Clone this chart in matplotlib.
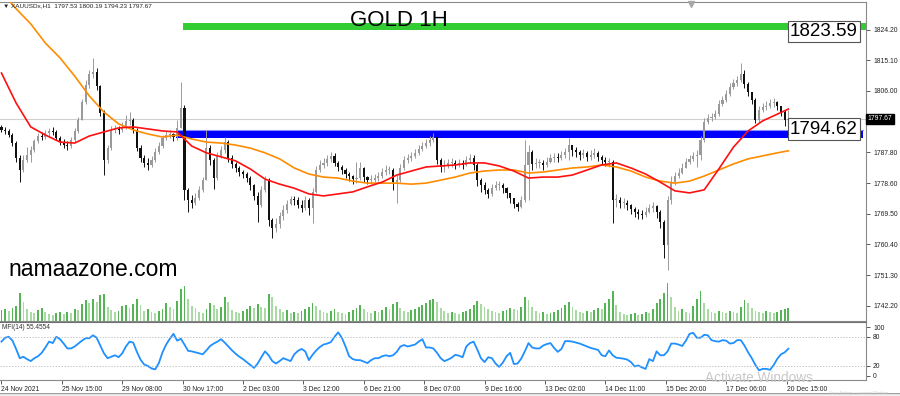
import matplotlib
matplotlib.use("Agg")
import matplotlib.pyplot as plt
import matplotlib.transforms as mtransforms
import numpy as np

plt.rcParams['font.family'] = ['Liberation Sans', 'DejaVu Sans']

# ---- data (2-hour candles) ----
first_open = 1795.2
closes = [
    1794.4, 1794.1, 1792.9, 1790.5, 1786.1, 1782.5, 1785.5, 1787.0, 1788.5, 1791.1,
    1792.6, 1792.3, 1793.5, 1794.1, 1793.8, 1792.0, 1790.8, 1789.9, 1789.6, 1791.4,
    1794.1, 1797.4, 1802.7, 1807.7, 1811.0, 1811.6, 1807.4, 1799.4, 1785.5, 1789.0,
    1794.4, 1794.7, 1794.4, 1795.3, 1797.1, 1797.4, 1794.4, 1789.0, 1786.1, 1784.6,
    1784.0, 1785.5, 1787.9, 1789.6, 1792.0, 1792.9, 1793.2, 1792.3, 1795.0, 1800.9,
    1776.6, 1773.6, 1772.7, 1774.2, 1776.6, 1779.5, 1789.0, 1785.5, 1780.1, 1786.7,
    1788.5, 1790.8, 1786.1, 1784.3, 1783.1, 1781.9, 1781.3, 1780.1, 1778.0, 1774.8,
    1772.1, 1776.6, 1779.5, 1767.7, 1765.3, 1766.5, 1768.9, 1770.6, 1772.4, 1773.9,
    1773.6, 1772.1, 1771.2, 1773.6, 1771.2, 1776.0, 1782.5, 1784.0, 1784.6, 1785.8,
    1786.7, 1784.6, 1783.4, 1782.5, 1781.3, 1780.7, 1779.8, 1780.1, 1783.1, 1780.4,
    1779.5, 1779.5, 1780.1, 1780.7, 1781.9, 1782.5, 1782.5, 1778.9, 1779.5, 1783.1,
    1785.5, 1786.1, 1786.7, 1787.6, 1788.8, 1789.6, 1790.5, 1791.4, 1792.3, 1785.5,
    1783.4, 1783.7, 1784.6, 1784.6, 1784.0, 1784.6, 1784.0, 1785.5, 1786.1, 1784.0,
    1779.5, 1778.0, 1776.6, 1775.4, 1777.2, 1778.0, 1778.0, 1777.2, 1775.7, 1774.2,
    1772.4, 1771.5, 1773.6, 1784.0, 1787.9, 1784.3, 1784.6, 1784.6, 1784.0, 1784.9,
    1786.1, 1786.4, 1786.1, 1787.0, 1787.9, 1789.9, 1788.5, 1787.9, 1787.0, 1787.6,
    1786.4, 1787.0, 1787.6, 1786.4, 1785.5, 1784.9, 1784.9, 1773.6, 1773.6, 1772.7,
    1772.7, 1772.1, 1770.9, 1770.0, 1769.4, 1769.1, 1770.0, 1771.2, 1771.8, 1770.0,
    1767.1, 1760.2, 1773.6, 1778.9, 1780.7, 1781.6, 1783.1, 1784.9, 1785.8, 1786.7,
    1787.0, 1791.4, 1796.8, 1798.0, 1798.3, 1799.1, 1802.1, 1803.3, 1805.1, 1807.2,
    1808.4, 1809.2, 1811.0, 1808.0, 1805.6, 1803.3, 1797.4, 1800.3, 1801.2, 1801.5,
    1802.4, 1802.7, 1801.5, 1799.7, 1797.4, 1797.67,
]
highs = [
    1795.9, 1795.3, 1794.7, 1793.5, 1791.1, 1787.0, 1787.0, 1789.3, 1789.6, 1791.7,
    1793.5, 1793.8, 1794.4, 1795.0, 1795.3, 1794.4, 1792.6, 1791.7, 1791.1, 1792.3,
    1795.0, 1798.3, 1803.6, 1809.2, 1812.2, 1815.8, 1812.8, 1807.7, 1800.3, 1789.9,
    1795.6, 1795.9, 1795.6, 1796.8, 1798.8, 1799.7, 1797.9, 1795.0, 1789.9, 1787.0,
    1786.1, 1786.7, 1789.0, 1790.8, 1792.9, 1794.1, 1794.4, 1793.5, 1797.4, 1808.6,
    1801.8, 1777.2, 1775.1, 1775.6, 1777.8, 1780.4, 1794.4, 1789.9, 1786.1, 1787.9,
    1789.6, 1792.3, 1791.4, 1787.0, 1784.9, 1783.7, 1782.5, 1781.9, 1780.7, 1778.3,
    1776.0, 1777.8, 1780.7, 1780.1, 1768.3, 1768.3, 1770.0, 1772.1, 1773.6, 1774.8,
    1774.8, 1774.5, 1773.6, 1774.8, 1774.2, 1777.2, 1783.7, 1785.5, 1786.1, 1787.0,
    1787.9, 1787.6, 1785.2, 1784.0, 1783.1, 1781.9, 1781.0, 1784.9, 1784.9, 1783.4,
    1780.7, 1781.0, 1781.3, 1781.9, 1783.1, 1784.0, 1783.7, 1783.1, 1781.0, 1784.3,
    1786.7, 1787.3, 1787.9, 1788.8, 1789.9, 1790.8, 1791.7, 1792.6, 1793.5, 1792.9,
    1786.1, 1785.5, 1785.8, 1786.1, 1785.5, 1785.8, 1785.5, 1786.7, 1787.3, 1787.0,
    1784.6, 1780.1, 1778.9, 1777.2, 1778.3, 1779.2, 1779.2, 1778.6, 1777.5, 1775.7,
    1774.2, 1773.0, 1774.8, 1791.4, 1789.9, 1788.5, 1786.1, 1785.8, 1785.5, 1786.4,
    1787.3, 1787.6, 1787.6, 1788.2, 1789.0, 1792.0, 1789.9, 1789.3, 1788.5, 1788.8,
    1788.2, 1788.5, 1789.0, 1788.2, 1787.0, 1786.4, 1786.1, 1785.5, 1775.4, 1774.5,
    1774.2, 1773.6, 1772.4, 1771.5, 1770.9, 1770.6, 1771.5, 1772.4, 1773.0, 1772.1,
    1770.6, 1767.6, 1774.8, 1780.7, 1781.9, 1783.1, 1784.6, 1786.1, 1787.0, 1787.9,
    1788.5, 1792.6, 1798.0, 1799.1, 1799.4, 1800.3, 1803.3, 1804.5, 1806.3, 1808.4,
    1809.5, 1810.4, 1814.3, 1812.2, 1808.6, 1805.6, 1803.9, 1801.5, 1802.4, 1803.0,
    1803.6, 1803.9, 1803.0, 1801.5, 1800.2, 1800.19,
]
lows = [
    1793.8, 1793.2, 1792.3, 1789.6, 1784.9, 1778.9, 1781.9, 1784.9, 1784.9, 1787.9,
    1790.5, 1791.4, 1791.7, 1792.6, 1792.9, 1791.4, 1789.9, 1789.0, 1788.5, 1789.0,
    1790.8, 1793.5, 1797.4, 1802.1, 1806.8, 1809.8, 1806.3, 1798.5, 1781.0, 1784.6,
    1788.5, 1793.5, 1793.2, 1793.8, 1794.7, 1795.9, 1793.5, 1788.2, 1784.9, 1783.4,
    1782.5, 1783.4, 1784.9, 1787.3, 1789.0, 1791.4, 1792.0, 1791.1, 1791.4, 1795.0,
    1773.6, 1770.0, 1771.2, 1772.1, 1773.6, 1775.9, 1780.1, 1784.0, 1776.8, 1779.5,
    1786.1, 1787.6, 1784.9, 1783.1, 1781.9, 1780.7, 1780.1, 1778.9, 1776.6, 1773.6,
    1767.1, 1771.5, 1775.9, 1765.9, 1762.3, 1764.1, 1765.3, 1767.7, 1769.7, 1772.1,
    1772.1, 1771.2, 1770.0, 1770.6, 1769.1, 1766.8, 1775.7, 1781.9, 1783.1, 1783.7,
    1784.9, 1783.7, 1782.2, 1781.3, 1780.1, 1779.2, 1778.3, 1778.6, 1779.5, 1778.9,
    1778.3, 1778.3, 1778.9, 1779.2, 1780.1, 1781.0, 1781.3, 1776.6, 1772.7, 1778.9,
    1782.5, 1784.6, 1785.2, 1786.1, 1787.0, 1788.2, 1789.0, 1789.6, 1790.8, 1784.3,
    1781.9, 1781.9, 1783.1, 1783.4, 1782.8, 1783.4, 1782.8, 1783.7, 1784.6, 1782.5,
    1777.7, 1775.9, 1775.4, 1774.2, 1774.8, 1776.6, 1776.6, 1775.7, 1774.2, 1772.7,
    1771.2, 1770.3, 1771.2, 1773.0, 1773.6, 1782.5, 1783.1, 1783.1, 1782.5, 1783.4,
    1784.6, 1784.9, 1784.9, 1785.5, 1786.1, 1785.5, 1786.7, 1786.4, 1785.5, 1786.1,
    1785.2, 1785.5, 1786.1, 1785.2, 1784.0, 1783.7, 1783.4, 1766.8, 1771.5, 1771.2,
    1771.2, 1770.6, 1769.4, 1768.5, 1767.9, 1767.9, 1768.5, 1769.7, 1770.0, 1768.3,
    1765.3, 1756.4, 1752.8, 1772.4, 1778.0, 1780.1, 1781.3, 1783.1, 1784.3, 1785.2,
    1783.4, 1785.5, 1790.8, 1796.2, 1797.1, 1797.7, 1798.5, 1801.5, 1802.7, 1804.5,
    1806.6, 1807.4, 1808.6, 1806.8, 1804.5, 1802.1, 1796.5, 1796.8, 1799.7, 1800.3,
    1801.0, 1801.2, 1800.3, 1798.5, 1795.6, 1794.23,
]
volumes = [
    2200, 2400, 2000, 2600, 3000, 5600, 3800, 2400, 1800, 1600,
    2200, 2600, 1800, 1400, 1200, 1600, 1800, 1400, 1800, 1600,
    2400, 2200, 3400, 4200, 3600, 4400, 3800, 5200, 5400, 2800,
    2200, 1800, 2000, 3000, 3200, 2600, 3400, 4400, 3200, 2000,
    2400, 1800, 1600, 2000, 2400, 3600, 2800, 2400, 4000, 6400,
    7000, 4400, 3000, 2600, 1800, 1600, 2400, 3600, 3200, 2400,
    2800, 4800, 3800, 2200, 1800, 1600, 2000, 2400, 3000, 2600,
    3400, 2800, 2600, 5400, 4800, 3000, 2400, 1800, 2200, 1600,
    1800, 1600, 2000, 2400, 2800, 3600, 3000, 2200, 1800, 1600,
    2000, 2400, 1800, 1600, 1400, 1800, 2200, 2600, 3200, 2400,
    1800, 1600, 2000, 1800, 2200, 2800, 2400, 3400, 3800, 2600,
    2000, 1800, 2200, 2400, 2800, 3200, 3600, 4200, 4400, 3800,
    2600, 2000, 1600, 1800, 1600, 1400, 1800, 2000, 2400, 3200,
    4000, 3400, 2800, 2400, 2000, 1800, 1600, 2000, 2200, 2600,
    2400, 2200, 2800, 4800, 4200, 2800, 2000, 1600, 1800, 1400,
    1600, 1800, 2200, 2600, 3200, 3800, 2800, 2200, 1800, 1600,
    2000, 1800, 2200, 2600, 2400, 3600, 4400, 6000, 3200, 1800,
    1400, 1200, 1400, 1600, 1200, 1400, 1800, 1600, 2400, 3600,
    4400, 5600, 7600, 4800, 2800, 2000, 2400, 1800, 1600, 3000,
    4400, 6000, 3600, 2400, 1800, 1600, 2000, 1800, 1600, 2000,
    1800, 1600, 2800, 4200, 3600, 2600, 2000, 1800, 1600, 2000,
    1800, 1600, 1800, 2200, 2400, 2600,
]
mfi = [
    70, 78, 80, 72, 55, 36, 39, 34, 30, 36,
    40, 47, 58, 70, 67, 80, 75, 66, 56, 56,
    60, 66, 72, 77, 77, 83, 78, 62, 46, 36,
    39, 42, 38, 46, 60, 70, 68, 49, 33, 23,
    20, 15, 13, 26, 48, 64, 76, 86, 72, 76,
    64, 51, 50, 48, 46, 44, 52, 61, 66, 70,
    75, 68, 60, 52, 45, 39, 34, 28, 22, 16,
    25, 38, 50, 42, 30, 25, 30, 36, 33, 30,
    44, 51, 55, 50, 32, 43, 52, 59, 64, 66,
    69, 80, 89, 78, 60, 40, 34, 32, 32, 29,
    26, 32, 36, 36, 40, 42, 40, 42, 49, 60,
    63, 60, 62, 64, 70, 75, 58, 58, 56, 47,
    36, 30, 33, 37, 43, 41, 38, 60, 67, 70,
    54, 36, 28, 38, 36, 25, 18, 27, 40, 47,
    24, 25, 35, 50, 67, 58, 56, 56, 62, 65,
    67, 57, 49, 55, 71, 71, 70, 68, 66, 63,
    60, 57, 55, 53, 42, 40, 52, 42, 37, 36,
    35, 33, 28, 19, 21, 17, 14, 34, 30, 50,
    42, 42, 50, 66, 66, 64, 61, 72, 86, 88,
    78, 78, 84, 83, 73, 71, 70, 73, 72, 66,
    67, 73, 73, 62, 48, 36, 22, 11, 14, 14,
    12, 22, 35, 44, 48, 55.4554,
]
# moving averages, sampled every 8 hours (last point = last bar)
ma_fast = [
    1811.3, 1802.4, 1795.3, 1792.9, 1790.8, 1790.5, 1792.6, 1793.8, 1795.0, 1795.3,
    1794.7, 1794.1, 1793.8, 1789.6, 1787.6, 1786.4, 1785.2, 1782.8, 1779.8, 1778.3,
    1777.1, 1775.4, 1774.8, 1775.4, 1776.0, 1777.5, 1778.9, 1781.0, 1782.2, 1783.4,
    1783.7, 1784.0, 1784.6, 1784.6, 1783.7, 1782.2, 1780.1, 1780.4, 1780.4, 1781.0,
    1782.5, 1784.0, 1784.6, 1783.1, 1781.3, 1778.9, 1776.3, 1775.7, 1776.6, 1782.8,
    1789.3, 1794.1, 1797.1, 1799.1, 1800.6,
]
ma_slow = [
    1835.4, 1830.4, 1825.9, 1820.2, 1815.8, 1810.4, 1804.5, 1799.7, 1796.2, 1794.4,
    1793.2, 1792.3, 1792.9, 1791.7, 1790.8, 1790.5, 1789.9, 1789.0, 1787.6, 1785.8,
    1783.1, 1781.3, 1780.4, 1780.1, 1779.2, 1778.6, 1778.6, 1778.6, 1778.3, 1778.6,
    1779.5, 1780.4, 1781.6, 1782.2, 1782.5, 1782.5, 1781.6, 1781.9, 1782.5, 1783.1,
    1783.4, 1784.0, 1783.4, 1782.2, 1780.4, 1779.2, 1778.6, 1779.2, 1780.7, 1782.5,
    1784.3, 1785.8, 1786.7, 1787.6, 1788.2,
]
date_labels = ['24 Nov 2021', '25 Nov 15:00', '29 Nov 08:00', '30 Nov 17:00',
               '2 Dec 03:00', '3 Dec 12:00', '6 Dec 21:00', '8 Dec 07:00',
               '9 Dec 16:00', '13 Dec 02:00', '14 Dec 11:00', '15 Dec 20:00',
               '17 Dec 06:00', '20 Dec 15:00']
price_ticks = [1824.20, 1815.10, 1806.00, 1787.80, 1778.60, 1769.50,
               1760.40, 1751.30, 1742.20]
resistance = (1824.1, 1826.1)
support = (1791.9, 1794.3)
resistance_label = 1823.59
support_label = 1794.62
last_price = 1797.67

hours_per_candle = 2
hours_per_label = 33

# ---- derived arrays ----
closes = np.array(closes)
opens = np.r_[first_open, closes[:-1]]
highs = np.maximum(np.array(highs), np.maximum(opens, closes))
lows = np.minimum(np.array(lows), np.minimum(opens, closes))
x = np.arange(len(closes)) * hours_per_candle
ma_x = np.r_[np.arange(len(ma_fast) - 1) * 8, x[-1]]
date_ticks = np.arange(len(date_labels)) * hours_per_label

W, H = 900, 396
def box(x0, y0, x1, y1):
    return [x0 / W, 1 - y1 / H, (x1 - x0) / W, (y1 - y0) / H]

fig = plt.figure(figsize=(9, 3.96), dpi=100)
fig.patch.set_facecolor('white')
ax = fig.add_axes(box(0, 2, 866, 320.5))
axm = fig.add_axes(box(0, 322, 866, 380), sharex=ax)

xmin = -0.8
xmax = xmin + 866 / 1.83
ax.set_xlim(xmin, xmax)
ax.set_ylim(1737.8, 1832.4)

# volumes (overlay at bottom of price panel)
axv = ax.twinx()
axv.set_ylim(0, 63700)
vol = np.array(volumes)
vol_up = np.r_[True, vol[1:] >= vol[:-1]]
axv.bar(x, vol, width=1.0, color=np.where(vol_up, '#55b455', '#aadaa4'), linewidth=0)
axv.axis('off')

# zones
ax.fill_between([99.2, xmax], resistance[0], resistance[1], color='#32cd32', lw=0, zorder=1)
ax.fill_between([95.4, xmax - 1.5], support[0], support[1], color='#0000ff', lw=0, zorder=1)
ax.plot([95.4, xmax - 1.5], [support[1], support[1]], color='#8c8cff', lw=0.8, zorder=1)
ax.axhline(last_price, color='#cfcfcf', lw=0.8, zorder=0.5)

# candles
up = closes >= opens
ccol = np.where(up, '#9a9a9a', '#111111')
ax.vlines(x, lows, highs, colors=ccol, lw=0.7, zorder=3)
body_lo = np.minimum(opens, closes)
body_h = np.maximum(np.abs(closes - opens), 0.2)
ax.bar(x, body_h, bottom=body_lo, width=1.15, color=ccol, linewidth=0, zorder=3)

# moving averages
ax.plot(ma_x, ma_slow, color='#ff8c00', lw=1.2, zorder=4)
ax.plot(ma_x, ma_fast, color='#ff1010', lw=1.2, zorder=4)

# level labels
for val in (resistance_label, support_label):
    ax.text(449.5, val, f'{val:.2f}', fontsize=13.5, ha='center', va='center', zorder=6,
            bbox=dict(boxstyle='square,pad=0.12', fc='white', ec='#555555', lw=0.8))

# right price axis
ax.yaxis.tick_right()
ax.set_yticks(price_ticks)
ax.set_yticklabels([f'{p:.2f}' for p in price_ticks])
ax.tick_params(axis='y', labelsize=4.9, length=3, width=0.6, color='#404040', pad=2,
               labelcolor='#222222')
ax.tick_params(axis='x', bottom=False, labelbottom=False)
trans = mtransforms.blended_transform_factory(ax.transAxes, ax.transData)
ax.text(1.0015, last_price, f'{last_price:.2f}', transform=trans, fontsize=4.9, color='white',
        va='center', ha='left', zorder=7, clip_on=False,
        bbox=dict(boxstyle='square,pad=0.25', fc='black', ec='black'))
ax.plot([377], [0.995], marker='v', ms=4, color='#a8a8a8', transform=ax.get_xaxis_transform(),
        clip_on=False, zorder=7)

ax.spines['left'].set_visible(False)
for s in ('top', 'right', 'bottom'):
    ax.spines[s].set_color('#8a8a8a')
    ax.spines[s].set_linewidth(0.8)

# MFI panel
axm.plot(x, mfi, color='#1e90ff', lw=1.3)
for lvl in (80, 20):
    axm.axhline(lvl, color='#b5b5b5', lw=0.6, ls=(0, (1.5, 2)))
axm.set_ylim(-8.8, 110.3)
axm.yaxis.tick_right()
axm.set_yticks([100, 80, 20, 0])
axm.tick_params(axis='y', labelsize=4.9, length=3, width=0.6, color='#404040', pad=2,
                labelcolor='#222222')
axm.set_xticks(date_ticks)
axm.set_xticklabels(date_labels)
for lab in axm.get_xticklabels():
    lab.set_ha('left')
axm.tick_params(axis='x', labelsize=4.9, length=3, width=0.6, color='#404040', pad=1.0,
                labelcolor='#222222')
axm.spines['left'].set_visible(False)
for s in ('top', 'right', 'bottom'):
    axm.spines[s].set_color('#8a8a8a')
    axm.spines[s].set_linewidth(0.8)
axm.spines['top'].set_color('#707070')
axm.text(2 / 866, 0.9, f'MFI(14) {mfi[-1]:.4f}', transform=axm.transAxes, fontsize=4.7,
         color='#333333', va='center', ha='left')

# figure texts
fig.text(3 / W, 1 - 6 / H, '▼ XAUUSDx,H1  1797.53 1800.19 1794.23 1797.67', fontsize=4.6,
         color='#222222', va='center', ha='left')
fig.text(399 / W, 1 - 20 / H, 'GOLD 1H', fontsize=16, ha='center', va='center', color='black')
fig.text(8 / W, 1 - 270 / H, 'namaazone.com', fontsize=16.5, ha='left', va='center',
         color='black')
fig.text(705 / W, 1 - 378 / H, 'Activate Windows', fontsize=9.8, ha='left', va='center',
         color='#c8c8c8', zorder=10)

# bottom tab strip
strip = fig.add_axes(box(0, 392.5, 900, 396))
strip.set_facecolor('#f0f0f0')
strip.set_xticks([])
strip.set_yticks([])
for s in strip.spines.values():
    s.set_visible(False)
strip.axhline(1.0, color='#a0a0a0', lw=1.0)
fig.text(829 / W, 1 - 393.4 / H, 'Go to Settings to activate Windows.', fontsize=2.8,
         ha='left', va='center', color='#c8c8c8', zorder=10)

fig.savefig('out.png', dpi=100)
